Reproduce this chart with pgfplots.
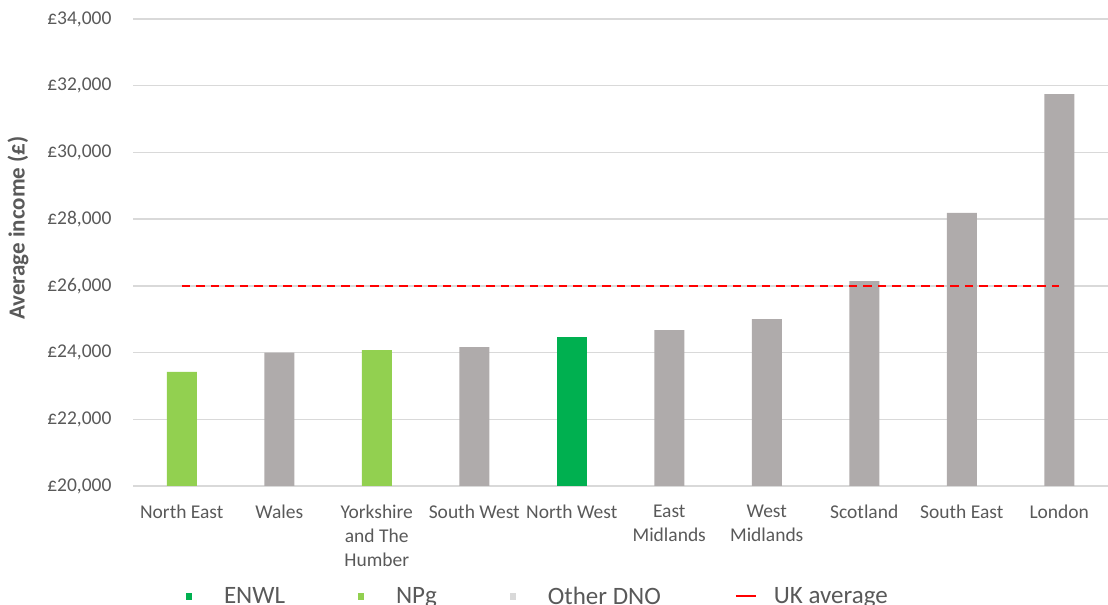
\documentclass[border=0pt]{standalone}
\usepackage{fontspec}
\setmainfont{Carlito}
\usepackage{pgfplots}
\pgfplotsset{compat=1.18}
\definecolor{othergrey}{HTML}{AFABAB}
\definecolor{npg}{HTML}{92D050}
\definecolor{enwl}{HTML}{00B050}
\definecolor{gridc}{HTML}{D9D9D9}
\definecolor{txt}{HTML}{595959}
\begin{document}
\begin{tikzpicture}
\path[use as bounding box] (0,0) rectangle (1108bp,605bp);
\begin{axis}[
  at={(133bp,119bp)}, anchor=south west,
  scale only axis, width=975bp, height=467bp,
  xmin=-0.5, xmax=9.5, ymin=20000, ymax=34000,
  scaled y ticks=false,
  axis line style={draw=none},
  major tick length=0pt,
  ymajorgrids, grid style={gridc, line width=1.3bp},
  ytick={20000,22000,24000,26000,28000,30000,32000,34000},
  yticklabels={{£20,000},{£22,000},{£24,000},{£26,000},{£28,000},{£30,000},{£32,000},{£34,000}},
  xtick={0,1,2,3,4,5,6,7,8,9},
  xticklabels={North East,Wales,Yorkshire\\and The\\Humber,South West,North West,East\\Midlands,West\\Midlands,Scotland,South East,London},
  tick label style={font=\fontsize{19.5bp}{24bp}\selectfont, text=txt},
  xticklabel style={align=center, yshift=-15bp},
  yticklabel style={xshift=-18bp},
  ylabel={Average income (£)},
  ylabel style={at={(axis description cs:-0.118,0.552)}, anchor=center, font=\bfseries\fontsize{23bp}{28bp}\selectfont, text=txt},
  legend columns=-1,
  legend style={at={(0.047,-0.236)}, anchor=west, draw=none, fill=none, inner sep=0pt,
    font=\fontsize{25bp}{30bp}\selectfont, text=txt,
    /tikz/every even column/.append style={column sep=64bp}},
]
\addplot[ybar, bar width=30bp, bar shift=0pt, fill=enwl, draw=none,
  legend image code/.code={\path (0,0) (43bp,0); \fill[enwl] (7bp,-3.5bp) rectangle (13bp,3.5bp);}]
  coordinates {(4,24470)};
\addlegendentry{ENWL}
\addplot[ybar, bar width=30bp, bar shift=0pt, fill=npg, draw=none,
  legend image code/.code={\path (0,0) (43bp,0); \fill[npg] (7bp,-3.5bp) rectangle (13bp,3.5bp);}]
  coordinates {(0,23420) (2,24070)};
\addlegendentry{NPg}
\addplot[ybar, bar width=30bp, bar shift=0pt, fill=othergrey, draw=none,
  legend image code/.code={\path (0,0) (43bp,0); \fill[gridc] (7bp,-3.5bp) rectangle (13bp,3.5bp);}]
  coordinates {(1,24000) (3,24160) (5,24670) (6,25000) (7,26140) (8,28190) (9,31750)};
\addlegendentry{Other DNO}
\addplot[sharp plot, red, line width=2bp, dash pattern=on 8.5bp off 6bp,
  legend image code/.code={\path (0,0) (43bp,0); \draw[red, solid, line width=2bp] (8bp,0) -- (28bp,0);}]
  coordinates {(0,26000) (9,26000)};
\addlegendentry{UK average}
\end{axis}
\end{tikzpicture}
\end{document}
